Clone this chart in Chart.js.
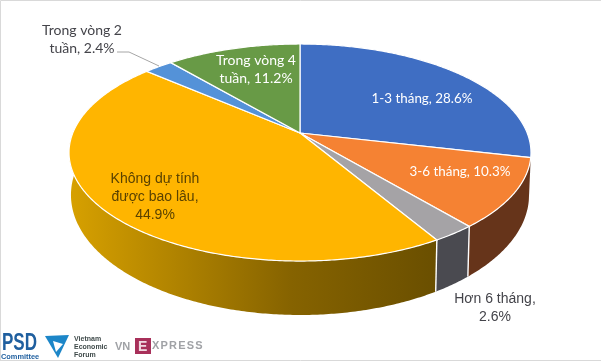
<!DOCTYPE html>
<html lang="en">
  <head>
    <meta charset="UTF-8" />
    <title>Pie</title>
    <script src="https://cdn.jsdelivr.net/npm/chart.js"></script>
    <style>
      body {
        margin: 0;
        background: #fff;
      }
      #wrap {
        position: relative;
        width: 601px;
        height: 361px;
        overflow: hidden;
      }
    </style>
  </head>
  <body>
    <div id="wrap"><canvas id="pie" width="601" height="361"></canvas></div>

    <script>
      const categories = ["1-3 tháng", "3-6 tháng", "Hơn 6 tháng", "Không dự tính được bao lâu", "Trong vòng 2 tuần", "Trong vòng 4 tuần"];
      const values = [28.6, 10.3, 2.6, 44.9, 2.4, 11.2];
      const labelLines = [
        ["1-3 tháng, 28.6%"],
        ["3-6 tháng, 10.3%"],
        ["Hơn 6 tháng,", "2.6%"],
        ["Không dự tính", "được bao lâu,", "44.9%"],
        ["Trong vòng 2", "tuần, 2.4%"],
        ["Trong vòng 4", "tuần, 11.2%"],
      ];
      const topColors = ["#3f6ec3", "#f58233", "#a5a3a6", "#ffb500", "#5492d8", "#689a46"];
      const wallColors = ["#2a4a82", "#66341a", "#4a4a50", "#866300", "#3a6a9a", "#466a30"];

      // top face and bottom rim of the disc, projected with a bit of perspective
      const topFace = { cx: 300, cy: 133, a: 227.2, b: 105, k: 0.18 };
      const baseFace = { cx: 300, cy: 173.4, a: 225.3, b: 116.1, k: 0.18 };

      const labelStyle = [
        { x: 422, y: 99, color: "#fff", font: "13.4px Lato, 'Noto Sans'" },
        { x: 460, y: 172, color: "#fff", font: "13.4px Lato, 'Noto Sans'" },
        { x: 495, y: 299, color: "#44444a", font: "14px 'Liberation Sans'" },
        { x: 155, y: 179, color: "#5a4200", font: "14px 'Liberation Sans'" },
        { x: 82, y: 30, color: "#44444a", font: "14px Lato, 'Noto Sans'" },
        { x: 256, y: 60, color: "#fff", font: "14px Lato, 'Noto Sans'" },
      ];

      function project(face, t) {
        const s = Math.sin(t);
        const c = Math.cos(t);
        const d = 1 + face.k * c;
        return { x: face.cx + (face.a * s) / d, y: face.cy - (face.b * c) / d };
      }

      function arcPoints(face, from, to) {
        const pts = [];
        const n = Math.max(2, Math.ceil((to - from) / 0.01));
        for (let i = 0; i <= n; i++) pts.push(project(face, from + ((to - from) * i) / n));
        return pts;
      }

      function tracePath(ctx, pts) {
        ctx.beginPath();
        pts.forEach((p, i) => (i ? ctx.lineTo(p.x, p.y) : ctx.moveTo(p.x, p.y)));
        ctx.closePath();
      }

      function drawLogos(ctx) {
        ctx.textAlign = "left";
        ctx.textBaseline = "alphabetic";

        ctx.fillStyle = "#1f5f9f";
        ctx.save();
        ctx.translate(2, 350);
        ctx.scale(0.74, 1);
        ctx.font = "bold 23px 'Liberation Sans'";
        ctx.fillText("PSD", 0, 0);
        ctx.restore();
        ctx.font = "bold 7.4px 'Liberation Sans'";
        ctx.fillText("Committee", 1, 359);

        ctx.fillStyle = "#1c86c8";
        ctx.beginPath();
        ctx.moveTo(45, 336);
        ctx.lineTo(69, 335);
        ctx.lineTo(58, 358);
        ctx.closePath();
        ctx.fill();
        ctx.fillStyle = "#fff";
        ctx.beginPath();
        ctx.moveTo(53, 341);
        ctx.lineTo(63, 344);
        ctx.lineTo(56, 352);
        ctx.closePath();
        ctx.fill();

        ctx.fillStyle = "#3f4a4a";
        ctx.font = "bold 7px 'Liberation Sans'";
        ctx.fillText("Vietnam", 74, 341);
        ctx.fillText("Economic", 74, 349);
        ctx.fillText("Forum", 74, 357);

        ctx.fillStyle = "#a0a2a6";
        ctx.font = "bold 11px 'Liberation Sans'";
        ctx.fillText("VN", 115, 350);
        ctx.fillStyle = "#a8305a";
        ctx.fillRect(135, 338, 16, 16);
        ctx.fillStyle = "#f0d8e0";
        ctx.font = "bold 14px 'Liberation Sans'";
        ctx.fillText("E", 138, 351);
        ctx.fillStyle = "#a0a2a6";
        ctx.font = "bold 11px 'Liberation Sans'";
        ctx.letterSpacing = "1.2px";
        ctx.fillText("XPRESS", 152, 349);
        ctx.letterSpacing = "0px";
      }

      const disc3d = {
        id: "disc3d",
        beforeDatasetDraw(chart, args) {
          const ctx = chart.ctx;
          const arcs = args.meta.data;
          const wallFrom = (100 * Math.PI) / 180;
          const wallTo = (272 * Math.PI) / 180;
          const angle = (arc) => [arc.startAngle + Math.PI / 2, arc.endAngle + Math.PI / 2];

          ctx.save();
          // side wall
          arcs.forEach((arc, i) => {
            const [a0, a1] = angle(arc);
            const from = Math.max(a0, wallFrom);
            const to = Math.min(a1, wallTo);
            if (to <= from) return;
            const pts = arcPoints(topFace, from, to).concat(arcPoints(baseFace, from, to).reverse());
            tracePath(ctx, pts);
            if (i === 3) {
              const g = ctx.createLinearGradient(72, 0, 436, 0);
              g.addColorStop(0, "#d6a000");
              g.addColorStop(0.6, "#866300");
              g.addColorStop(1, "#6a4f00");
              ctx.fillStyle = g;
            } else {
              ctx.fillStyle = wallColors[i];
            }
            ctx.fill();
          });
          // white seams between the wall pieces
          ctx.strokeStyle = "#fff";
          ctx.lineWidth = 1.4;
          arcs.forEach((arc) => {
            const t = arc.endAngle + Math.PI / 2;
            if (t < wallFrom + 0.1 || t > wallTo) return;
            const p = project(topFace, t);
            const q = project(baseFace, t);
            ctx.beginPath();
            ctx.moveTo(p.x, p.y);
            ctx.lineTo(q.x, q.y);
            ctx.stroke();
          });
          // top face
          arcs.forEach((arc, i) => {
            const [a0, a1] = angle(arc);
            const pts = [{ x: topFace.cx, y: topFace.cy }].concat(arcPoints(topFace, a0, a1));
            tracePath(ctx, pts);
            ctx.fillStyle = topColors[i];
            ctx.fill();
            ctx.strokeStyle = "#fff";
            ctx.lineWidth = 1.2;
            ctx.stroke();
          });
          ctx.restore();
          return false;
        },
        afterDraw(chart) {
          const ctx = chart.ctx;
          ctx.save();
          // frame of the screenshot
          ctx.strokeStyle = "#d9d9d9";
          ctx.lineWidth = 1;
          ctx.beginPath();
          ctx.moveTo(0.5, 361);
          ctx.lineTo(0.5, 0.5);
          ctx.lineTo(601, 0.5);
          ctx.moveTo(0, 360.5);
          ctx.lineTo(601, 360.5);
          ctx.stroke();

          // labels
          ctx.textAlign = "center";
          ctx.textBaseline = "middle";
          labelLines.forEach((lines, i) => {
            const st = labelStyle[i];
            ctx.font = st.font;
            ctx.fillStyle = st.color;
            lines.forEach((line, j) => ctx.fillText(line, st.x, st.y + j * 18));
          });

          // leader line of the 2.4% slice
          ctx.strokeStyle = "#a6a6a6";
          ctx.beginPath();
          ctx.moveTo(117, 52);
          ctx.lineTo(129, 52);
          ctx.lineTo(159, 66);
          ctx.stroke();

          drawLogos(ctx);
          ctx.restore();
        },
      };

      new Chart(document.getElementById("pie"), {
        type: "pie",
        data: {
          labels: categories,
          datasets: [{ data: values, backgroundColor: topColors, borderWidth: 0 }],
        },
        options: {
          responsive: false,
          animation: false,
          plugins: { legend: { display: false }, tooltip: { enabled: false } },
        },
        plugins: [disc3d],
      });
    </script>
  </body>
</html>
